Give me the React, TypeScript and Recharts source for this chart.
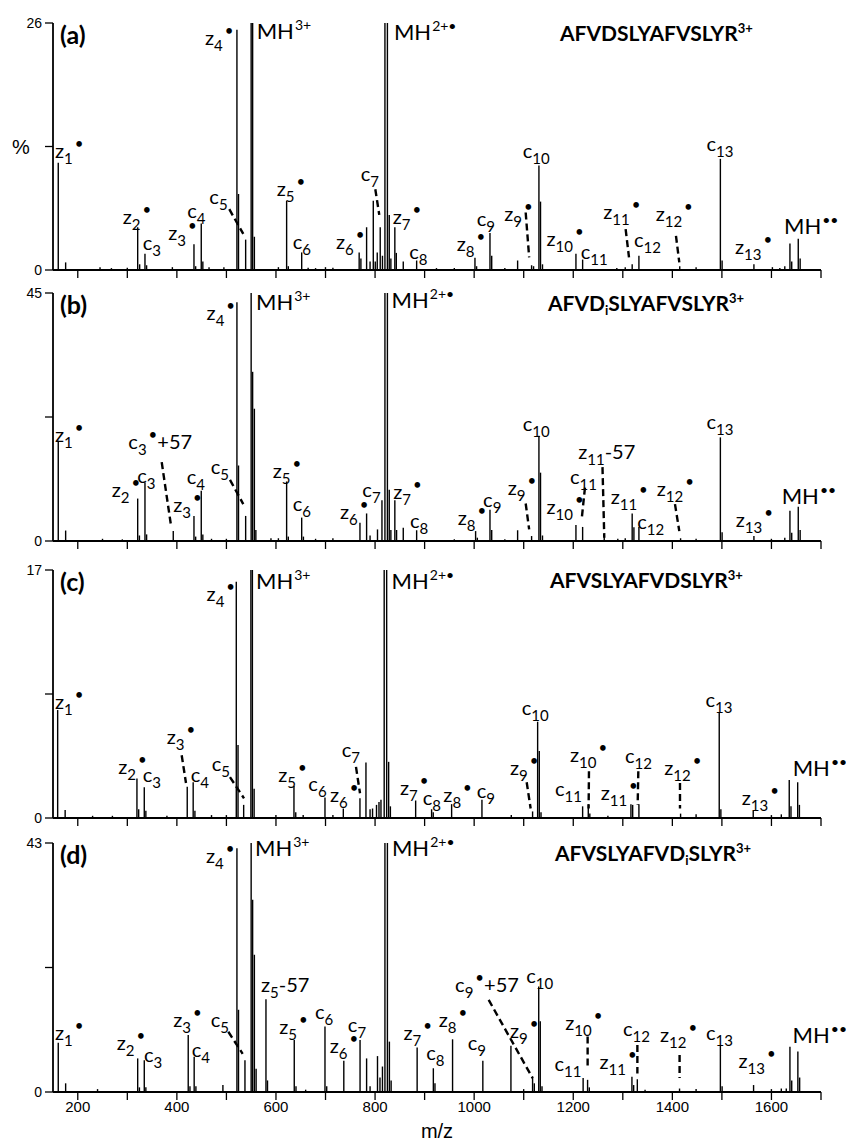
import React from 'react';
import { ComposedChart, Bar, XAxis, YAxis, ReferenceDot, ReferenceLine } from 'recharts';

type Peak = [number, number];
type Ion = { t: string; sub?: string; sup?: string; post?: string; mz: number; at: number };
type Seg = [[number, number], [number, number]];

// ---------- axis ticks ----------
const xTicks = [200, 300, 400, 500, 600, 700, 800, 900, 1000, 1100, 1200, 1300, 1400, 1500, 1600, 1700];
const xTickLabels = [200, 400, 600, 800, 1000, 1200, 1400, 1600];
const yMaxes = [26, 45, 17, 43];
const panelLetters = ['(a)', '(b)', '(c)', '(d)'];

// ---------- peaks: [m/z, intensity %] ----------
const peaksA: Peak[] = [
  [160.7, 11.3], [175.6, 0.8], [245, 0.3], [268, 0.2], [300, 0.25], [321, 4.5], [325, 0.6], [335.7, 1.7], [339, 0.5],
  [391, 0.3], [434.6, 2.7], [438, 0.4], [449.3, 4.9], [452.5, 0.9], [465, 0.3], [495, 0.3], [521.3, 25.3], [524.5, 8.0],
  [538.9, 3.2], [550, 40], [553, 40], [556.5, 3.5], [605, 0.3], [621.6, 7.3], [625, 0.4], [652, 1.85], [665, 0.25],
  [680, 0.2], [700, 0.3], [715, 0.25], [768, 1.85], [771.5, 1.2], [783, 4.5], [790, 0.9], [796.5, 7.3], [800.5, 0.9],
  [804.5, 1.85], [810.5, 4.5], [815, 1.5], [820, 40], [825, 40], [828.7, 5.8], [832, 1.2], [840, 4.5], [843, 1.8],
  [857, 0.9], [884, 1.0], [924, 0.2], [960, 0.2], [1001.7, 1.3], [1005, 0.4], [1032, 3.9], [1035.5, 1.5], [1062, 0.2],
  [1087.8, 1.0], [1116, 0.5], [1120, 0.4], [1130.8, 11.0], [1134, 7.2], [1138, 0.6], [1205.5, 1.7], [1219, 1.1],
  [1288, 0.2], [1305, 0.3], [1319, 0.6], [1332.6, 1.5], [1415, 0.4], [1448, 0.3], [1497, 11.7], [1500.5, 1.0],
  [1564.7, 0.6], [1602, 0.3], [1617, 0.2], [1627, 0.4], [1637.4, 2.8], [1641, 0.9], [1654.2, 3.3], [1658, 1.2],
];
const peaksB: Peak[] = [
  [160.7, 18.2], [175.6, 1.9], [250, 0.4], [290, 0.3], [321, 7.7], [324.5, 1.0], [335.7, 10.6], [339, 1.2], [392.8, 1.8],
  [434.6, 4.55], [438, 0.8], [449.3, 9.1], [452.5, 1.2], [470, 0.4], [500, 0.4], [521.3, 43.3], [524.5, 13.7],
  [538.9, 4.55], [550, 70], [553, 30.7], [556.5, 24], [559.5, 2], [590, 0.5], [605, 0.5], [621.6, 10.8], [625, 0.8],
  [652, 4.25], [655.5, 0.8], [680, 0.4], [715, 0.5], [769.6, 3.3], [783, 5.0], [790, 1.0], [805, 2.1], [814, 7.4],
  [820, 70], [825, 70], [828.7, 9.3], [832, 2], [840, 7.4], [843.5, 2.0], [857, 2.4], [884, 1.95], [960, 0.3],
  [1003, 1.8], [1006.5, 0.6], [1032, 5.65], [1035.5, 2.0], [1062, 0.3], [1087.8, 1.95], [1116, 0.9], [1130.8, 19.1],
  [1134, 12.4], [1138, 1.0], [1205.5, 2.9], [1219, 2.55], [1262.6, 1.2], [1290, 0.4], [1305, 0.5], [1319, 5.0],
  [1322.5, 2.5], [1332.6, 2.55], [1416.7, 0.5], [1448, 0.4], [1497, 18.8], [1500.5, 1.6], [1564.7, 0.9], [1600, 0.4],
  [1627, 0.6], [1637.4, 5.5], [1641, 1.5], [1654.2, 6.2], [1658, 2.0],
];
const peaksC: Peak[] = [
  [159.5, 7.4], [174.6, 0.55], [230, 0.15], [270, 0.15], [319.5, 2.7], [323, 0.6], [334.3, 2.1], [337.5, 0.5], [380, 0.15],
  [421, 2.15], [433, 2.45], [436.5, 0.5], [470, 0.2], [500, 0.2], [520, 16.2], [523.5, 5.0], [534.9, 0.9], [549.5, 30],
  [552.5, 30], [556, 2.0], [600, 0.2], [636.4, 2.2], [640, 0.4], [655, 0.2], [699, 1.4], [715, 0.2], [736, 0.65],
  [769.6, 1.35], [781.7, 3.8], [790, 0.6], [795, 0.65], [803, 0.9], [808, 1.1], [812, 1.25], [818.5, 30], [823.5, 30],
  [827.5, 3.85], [831, 0.8], [882, 1.2], [914.2, 0.6], [917.5, 0.4], [954.6, 0.95], [1015.8, 1.25], [1075, 0.2],
  [1118, 0.45], [1128.2, 6.6], [1131.5, 4.6], [1135, 0.4], [1219, 0.8], [1230.4, 0.95], [1233.5, 0.3], [1270, 0.15],
  [1316.5, 0.95], [1320, 0.9], [1332.6, 0.95], [1416.7, 0.3], [1448, 0.25], [1494.7, 7.25], [1498, 0.6], [1563.3, 0.5],
  [1600, 0.2], [1620, 0.25], [1636, 2.6], [1639.5, 0.8], [1653, 2.45], [1656.5, 0.9],
];
const peaksD: Peak[] = [
  [160.7, 8.5], [175.6, 1.5], [240, 0.5], [321, 5.8], [324.5, 0.8], [334.3, 5.5], [337.5, 0.8], [423, 9.85], [426.5, 1],
  [435, 6.1], [438.5, 1], [493, 1.2], [521.3, 42.1], [524.5, 14.2], [537.5, 5.5], [550, 70], [553, 33.2], [556.5, 23.7],
  [560, 4], [579.9, 16.0], [583, 2], [637, 9.0], [640.5, 1.0], [660, 0.4], [699, 11.3], [702.5, 1], [737, 5.4],
  [769.8, 9.0], [783, 5.8], [790, 1], [805, 6.2], [810, 2.5], [815, 4.4], [820, 70], [825, 70], [829, 8.7], [832.5, 2],
  [885, 7.7], [917.7, 4.1], [921, 1.5], [956.5, 9.1], [1017.6, 5.4], [1074.3, 8.0], [1100, 0.5], [1118, 2.65],
  [1121.5, 1.5], [1130.4, 18.2], [1133.5, 12.2], [1137, 1], [1220, 2.4], [1229, 2.1], [1232.5, 0.8], [1318.5, 2.65],
  [1322, 1.2], [1329.4, 2.2], [1345, 0.4], [1414.6, 0.6], [1448, 0.5], [1497, 8.0], [1500.5, 1], [1564, 1.2], [1600, 0.5],
  [1620, 0.6], [1630, 0.6], [1637.4, 7.8], [1641, 2], [1653.4, 7.0], [1657, 2.5],
];

// ---------- ion labels: anchor (left, baseline) in data units ----------
const ionsA: Ion[] = [
  { t: 'z', sub: '1', sup: '•', mz: 154, at: 11.8 }, { t: 'z', sub: '2', sup: '•', mz: 290.7, at: 4.8 },
  { t: 'c', sub: '3', mz: 331, at: 2.1 }, { t: 'z', sub: '3', sup: '•', mz: 382.7, at: 3.2 },
  { t: 'c', sub: '4', mz: 421, at: 5.5 }, { t: 'c', sub: '5', mz: 465.5, at: 7.0 },
  { t: 'z', sub: '4', sup: '•', mz: 456.8, at: 23.7 }, { t: 'MH', sup: '3+', mz: 561, at: 24.3 },
  { t: 'z', sub: '5', sup: '•', mz: 601.4, at: 7.8 }, { t: 'c', sub: '6', mz: 633.7, at: 2.2 },
  { t: 'c', sub: '7', mz: 771, at: 9.4 }, { t: 'z', sub: '6', sup: '•', mz: 721, at: 2.2 },
  { t: 'MH', sup: '2+•', mz: 838, at: 24.2 }, { t: 'z', sub: '7', sup: '•', mz: 835.6, at: 4.8 },
  { t: 'c', sub: '8', mz: 869, at: 1.15 }, { t: 'z', sub: '8', sup: '•', mz: 964.7, at: 2.0 },
  { t: 'c', sub: '9', mz: 1005, at: 4.6 }, { t: 'z', sub: '9', sup: '•', mz: 1060.8, at: 5.2 },
  { t: 'c', sub: '10', mz: 1098, at: 11.8 }, { t: 'z', sub: '10', sup: '•', mz: 1146, at: 2.55 },
  { t: 'c', sub: '11', mz: 1215, at: 1.15 }, { t: 'z', sub: '11', sup: '•', mz: 1260.6, at: 5.35 },
  { t: 'c', sub: '12', mz: 1322.6, at: 2.4 }, { t: 'z', sub: '12', sup: '•', mz: 1366.3, at: 5.2 },
  { t: 'c', sub: '13', mz: 1469, at: 12.5 }, { t: 'z', sub: '13', sup: '•', mz: 1526.4, at: 1.7 },
  { t: 'MH', sup: '••', mz: 1625.3, at: 3.8 },
];
const ionsB: Ion[] = [
  { t: 'z', sub: '1', sup: '•', mz: 154, at: 17.9 }, { t: 'z', sub: '2', sup: '•', mz: 268.5, at: 7.9 },
  { t: 'c', sub: '3', mz: 320, at: 10.6 }, { t: 'c', sub: '3', sup: '•', post: '+57', mz: 302, at: 16.7 },
  { t: 'z', sub: '3', sup: '•', mz: 392.8, at: 5.2 }, { t: 'c', sub: '4', mz: 419.8, at: 10.3 },
  { t: 'c', sub: '5', mz: 468.3, at: 12.1 }, { t: 'z', sub: '4', sup: '•', mz: 460, at: 40.1 },
  { t: 'MH', sup: '3+', mz: 559.7, at: 42 }, { t: 'z', sub: '5', sup: '•', mz: 593.4, at: 11.5 },
  { t: 'c', sub: '6', mz: 633.7, at: 5.5 }, { t: 'z', sub: '6', sup: '•', mz: 729, at: 3.95 },
  { t: 'c', sub: '7', mz: 774.3, at: 8.0 }, { t: 'MH', sup: '2+•', mz: 833.4, at: 42.2 },
  { t: 'z', sub: '7', sup: '•', mz: 836.8, at: 7.7 }, { t: 'c', sub: '8', mz: 870.5, at: 2.4 },
  { t: 'z', sub: '8', sup: '•', mz: 967, at: 2.9 }, { t: 'c', sub: '9', mz: 1018, at: 6.1 },
  { t: 'z', sub: '9', sup: '•', mz: 1067.6, at: 8.4 }, { t: 'c', sub: '10', mz: 1098, at: 20 },
  { t: 'z', sub: '10', sup: '•', mz: 1146, at: 4.85 }, { t: 'c', sub: '11', mz: 1193.4, at: 10.3 },
  { t: 'z', sub: '11', post: '-57', mz: 1210, at: 14.9 }, { t: 'z', sub: '11', sup: '•', mz: 1275.5, at: 6.7 },
  { t: 'c', sub: '12', mz: 1329, at: 2.1 }, { t: 'z', sub: '12', sup: '•', mz: 1368.4, at: 8.2 },
  { t: 'c', sub: '13', mz: 1469, at: 20.3 }, { t: 'z', sub: '13', sup: '•', mz: 1527.8, at: 2.55 },
  { t: 'MH', sup: '••', mz: 1620.6, at: 6.7 },
];
const ionsC: Ion[] = [
  { t: 'z', sub: '1', sup: '•', mz: 154, at: 7.5 }, { t: 'z', sub: '2', sup: '•', mz: 281.8, at: 3.05 },
  { t: 'c', sub: '3', mz: 331, at: 2.5 }, { t: 'z', sub: '3', sup: '•', mz: 379.5, at: 5.1 },
  { t: 'c', sub: '4', mz: 427.9, at: 2.45 }, { t: 'c', sub: '5', mz: 470.3, at: 3.2 },
  { t: 'z', sub: '4', sup: '•', mz: 460, at: 14.9 }, { t: 'MH', sup: '3+', mz: 559.7, at: 15.7 },
  { t: 'z', sub: '5', sup: '•', mz: 604.7, at: 2.5 }, { t: 'c', sub: '6', mz: 665.3, at: 1.85 },
  { t: 'z', sub: '6', sup: '•', mz: 709, at: 1.08 }, { t: 'c', sub: '7', mz: 732.6, at: 4.2 },
  { t: 'MH', sup: '2+•', mz: 833.4, at: 15.7 }, { t: 'z', sub: '7', sup: '•', mz: 850.3, at: 1.6 },
  { t: 'c', sub: '8', mz: 896, at: 0.9 }, { t: 'z', sub: '8', sup: '•', mz: 937.8, at: 1.1 },
  { t: 'c', sub: '9', mz: 1005, at: 1.35 }, { t: 'z', sub: '9', sup: '•', mz: 1072.3, at: 2.95 },
  { t: 'c', sub: '10', mz: 1096, at: 7.05 }, { t: 'c', sub: '11', mz: 1163, at: 1.5 },
  { t: 'z', sub: '10', sup: '•', mz: 1193.4, at: 3.85 }, { t: 'z', sub: '11', sup: '•', mz: 1255.3, at: 1.25 },
  { t: 'c', sub: '12', mz: 1304.4, at: 3.75 }, { t: 'z', sub: '12', sup: '•', mz: 1383.7, at: 2.95 },
  { t: 'c', sub: '13', mz: 1467, at: 7.6 }, { t: 'z', sub: '13', sup: '•', mz: 1540, at: 0.9 },
  { t: 'MH', sup: '••', mz: 1642.8, at: 2.85 },
];
const ionsD: Ion[] = [
  { t: 'z', sub: '1', sup: '•', mz: 154, at: 9.0 }, { t: 'z', sub: '2', sup: '•', mz: 278.5, at: 7.3 },
  { t: 'c', sub: '3', mz: 333.7, at: 5.2 }, { t: 'z', sub: '3', sup: '•', mz: 392.8, at: 11.3 },
  { t: 'c', sub: '4', mz: 429.8, at: 6.1 }, { t: 'c', sub: '5', mz: 468.3, at: 11.3 },
  { t: 'z', sub: '4', sup: '•', mz: 458.8, at: 39.5 }, { t: 'MH', sup: '3+', mz: 557.7, at: 40.7 },
  { t: 'z', sub: '5', post: '-57', mz: 569.8, at: 17.3 }, { t: 'z', sub: '5', sup: '•', mz: 606.7, at: 10.1 },
  { t: 'c', sub: '6', mz: 678.8, at: 12.6 }, { t: 'z', sub: '6', sup: '•', mz: 708.6, at: 6.7 },
  { t: 'c', sub: '7', mz: 745, at: 10.4 }, { t: 'MH', sup: '2+•', mz: 834, at: 40.7 },
  { t: 'z', sub: '7', sup: '•', mz: 857.4, at: 9.0 }, { t: 'z', sub: '8', sup: '•', mz: 928.6, at: 11.2 },
  { t: 'c', sub: '8', mz: 903.2, at: 5.5 }, { t: 'c', sub: '9', mz: 987, at: 7.3 },
  { t: 'c', sub: '9', sup: '•', post: '+57', mz: 961.5, at: 17.3 }, { t: 'z', sub: '9', sup: '•', mz: 1072.3, at: 9.3 },
  { t: 'c', sub: '10', mz: 1105, at: 18.8 }, { t: 'z', sub: '10', sup: '•', mz: 1183.7, at: 10.7 },
  { t: 'c', sub: '11', mz: 1161.9, at: 3.7 }, { t: 'z', sub: '11', sup: '•', mz: 1252.9, at: 3.9 },
  { t: 'c', sub: '12', mz: 1300.4, at: 9.7 }, { t: 'z', sub: '12', sup: '•', mz: 1375.2, at: 8.7 },
  { t: 'c', sub: '13', mz: 1467.9, at: 9.0 }, { t: 'z', sub: '13', sup: '•', mz: 1533.4, at: 4.1 },
  { t: 'MH', sup: '••', mz: 1642.6, at: 8.4 },
];

// ---------- dashed leader lines [[m/z, %], [m/z, %]] ----------
const leadersA: Seg[] = [
  [[505.8, 6.4], [534, 3.8]], [[800.5, 8.5], [808.5, 5.8]], [[1104, 6.05], [1111, 1.33]],
  [[1305.7, 4.3], [1312.5, 1.33]], [[1407.3, 3.6], [1414, 0.8]],
];
const leadersB: Seg[] = [
  [[369.4, 14.3], [388, 2.9]], [[507.2, 11.1], [534, 6.7]], [[1104, 6.8], [1111, 2.1]],
  [[1223.6, 9.7], [1217, 3.95]], [[1259, 13.4], [1262.6, 0.6]], [[1405.3, 6.7], [1414, 1.8]],
];
const leadersC: Seg[] = [
  [[409.7, 4.3], [418.4, 2.4]], [[507.2, 2.8], [535.5, 1.35]], [[761.5, 3.5], [769.6, 1.7]],
  [[1106, 2.45], [1114, 0.65]], [[1231.7, 3.2], [1231, 0.65]], [[1331.3, 3.2], [1330, 0.9]],
  [[1415.4, 2.4], [1415.4, 0.65]],
];
const leadersD: Seg[] = [
  [[503.8, 10.4], [532.8, 6.6]], [[1029.3, 15.9], [1118, 2.4]], [[1229, 9.6], [1229, 4.1]],
  [[1329.4, 8.1], [1329.4, 3.2]], [[1414.6, 6.4], [1414.6, 2.4]],
];

// ---------- titles ----------
const titleParts: [string, string, string][] = [
  ['AFVDSLYAFVSLYR', '', ''],
  ['AFVD', 'i', 'SLYAFVSLYR'],
  ['AFVSLYAFVDSLYR', '', ''],
  ['AFVSLYAFVD', 'i', 'SLYR'],
];
const titleCharge = '3+';

// ---------- layout ----------
const W = 846;
const plotTops = [23, 293, 570, 843];
const plotBottoms = [270, 541, 818, 1092];
const titleX = [560, 548, 550, 555];
const LABEL_FONT = "Lato, 'Open Sans', sans-serif";
const AXIS_FONT = "'Liberation Sans Narrow', 'Liberation Sans', Arial, sans-serif";

function IonText({ cx, cy, ion }: { cx: number; cy: number; ion: Ion }) {
  const isMH = ion.t === 'MH';
  const big = isMH ? 22 : 20;
  const subDy = 6;
  const isDot = ion.sup === '•';
  const supDy = ion.sub ? -(subDy + 9) : -9;
  const postDy = ion.sup ? 9 : ion.sub ? -subDy : 0;
  return (
    <text x={cx} y={cy} fontFamily={LABEL_FONT} fontSize={big} fill="#000">
      {ion.t}
      {ion.sub ? <tspan fontSize={15} dy={subDy}>{ion.sub}</tspan> : null}
      {ion.sup ? (
        <tspan fontSize={isMH ? 14 : 15} dx={isDot ? 2 : 1} dy={supDy}>{ion.sup}</tspan>
      ) : null}
      {ion.post ? <tspan fontSize={big} dy={postDy}>{ion.post}</tspan> : null}
    </text>
  );
}

function Panel({ idx, peaks, ions, leaders }: { idx: number; peaks: Peak[]; ions: Ion[]; leaders: Seg[] }) {
  const yMax = yMaxes[idx];
  const top = plotTops[idx];
  const plotH = plotBottoms[idx] - top;
  const showX = idx === 3;
  const mTop = 20;
  const xAxisH = showX ? 30 : 12;
  const height = mTop + plotH + xAxisH;
  const data = peaks.map(([mz, v]) => ({ mz, v }));
  return (
    <div style={{ position: 'absolute', left: 0, top: top - mTop }}>
      <ComposedChart width={W} height={height} data={data} margin={{ top: mTop, right: 25, bottom: 0, left: 8 }}>
        <XAxis
          dataKey="mz"
          type="number"
          domain={[150, 1700]}
          ticks={xTicks}
          interval={0}
          allowDataOverflow
          height={xAxisH}
          tickSize={8}
          tickMargin={1}
          axisLine={{ stroke: '#000', strokeWidth: 1.8 }}
          tickLine={{ stroke: '#000', strokeWidth: 1.3 }}
          tick={{ fill: '#000', fontSize: 15, fontFamily: AXIS_FONT }}
          tickFormatter={(v: number) => (showX && xTickLabels.includes(v) ? String(v) : '')}
        />
        <YAxis
          type="number"
          domain={[0, yMax]}
          ticks={[0, yMax / 2, yMax]}
          interval={0}
          allowDataOverflow
          width={45}
          tickSize={8}
          tickMargin={3}
          axisLine={{ stroke: '#000', strokeWidth: 1.8 }}
          tickLine={{ stroke: '#000', strokeWidth: 1.3 }}
          tick={{ fill: '#000', fontSize: 14, fontFamily: AXIS_FONT }}
          tickFormatter={(v: number) => (v === yMax / 2 ? '' : String(v))}
        />
        <Bar dataKey="v" fill="#000" barSize={1.4} isAnimationActive={false} />
        {leaders.map((s, k) => (
          <ReferenceLine
            key={'l' + k}
            segment={[{ x: s[0][0], y: s[0][1] }, { x: s[1][0], y: s[1][1] }]}
            stroke="#000"
            strokeWidth={2.4}
            strokeDasharray="7 4"
            ifOverflow="visible"
          />
        ))}
        {ions.map((ion, k) => (
          <ReferenceDot
            key={'i' + k}
            x={ion.mz}
            y={ion.at}
            r={0}
            ifOverflow="visible"
            shape={(p: any) => <IonText cx={p.cx} cy={p.cy} ion={ion} />}
          />
        ))}
      </ComposedChart>
    </div>
  );
}

export default function App() {
  const peakSets = [peaksA, peaksB, peaksC, peaksD];
  const ionSets = [ionsA, ionsB, ionsC, ionsD];
  const leaderSets = [leadersA, leadersB, leadersC, leadersD];
  return (
    <div style={{ position: 'absolute', left: 0, top: 0, width: W, height: 1144, background: '#fff' }}>
      {peakSets.map((p, i) => (
        <Panel key={i} idx={i} peaks={p} ions={ionSets[i]} leaders={leaderSets[i]} />
      ))}
      <svg width={W} height={1144} style={{ position: 'absolute', left: 0, top: 0, pointerEvents: 'none' }}>
        {panelLetters.map((l, i) => (
          <text key={l} x={60} y={plotTops[i] + 21} fontFamily={LABEL_FONT} fontWeight={700} fontSize={25} fill="#000">
            {l}
          </text>
        ))}
        {titleParts.map((tp, i) => (
          <text key={'t' + i} x={titleX[i]} y={plotTops[i] + 18} fontFamily={LABEL_FONT} fontWeight={700} fontSize={21} fill="#000">
            {tp[0]}
            {tp[1] ? <tspan fontSize={13} dy={4}>{tp[1]}</tspan> : null}
            {tp[2] ? <tspan dy={tp[1] ? -4 : 0}>{tp[2]}</tspan> : null}
            <tspan fontSize={13} dy={-8}>{titleCharge}</tspan>
          </text>
        ))}
        <text x={12} y={154} fontFamily={AXIS_FONT} fontSize={20} fill="#000">%</text>
        <text x={437} y={1138} textAnchor="middle" fontFamily={AXIS_FONT} fontSize={20} fill="#000">m/z</text>
      </svg>
    </div>
  );
}
